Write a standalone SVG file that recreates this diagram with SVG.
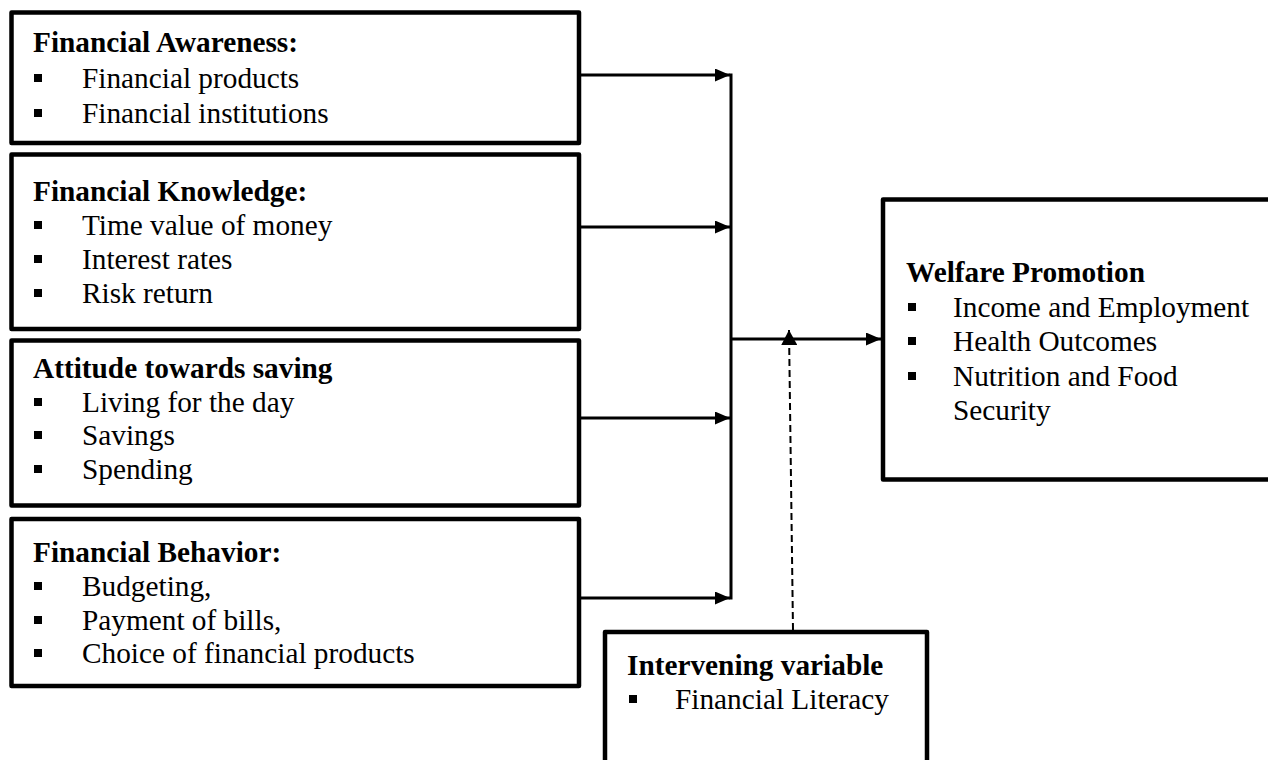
<svg xmlns="http://www.w3.org/2000/svg" width="1268" height="760" viewBox="0 0 1268 760">
  <style>
    .box { fill: #ffffff; stroke: #000000; stroke-width: 4.5; stroke-linejoin: round; }
    .t { font-family: "Liberation Serif", "Times New Roman", serif; font-size: 29.3px; fill: #000000; }
    .b { font-weight: bold; }
    .bul { fill: #000000; }
    .conn { stroke: #000000; stroke-width: 3; fill: none; }
    .dash { stroke: #000000; stroke-width: 2; fill: none; stroke-dasharray: 7 4; }
  </style>
  <defs>
    <marker id="arr" markerUnits="userSpaceOnUse" markerWidth="16" markerHeight="14" refX="15" refY="6.5" orient="auto">
      <path d="M0,0 L15,6.5 L0,13 z" fill="#000000"/>
    </marker>
    <marker id="arrD" markerUnits="userSpaceOnUse" markerWidth="16" markerHeight="16" refX="15" refY="8" orient="auto">
      <path d="M0,0 L15,8 L0,16 z" fill="#000000"/>
    </marker>
  </defs>
  <rect x="0" y="0" width="1268" height="760" fill="#ffffff"/>

  <g id="awareness">
    <rect class="box" x="11.5" y="12.5" width="567.5" height="130.5"/>
    <text class="t b" x="33" y="52">Financial Awareness:</text>
    <rect class="bul" x="34" y="74" width="8" height="8"/>
    <text class="t" x="82" y="88">Financial products</text>
    <rect class="bul" x="34" y="109" width="8" height="8"/>
    <text class="t" x="82" y="123">Financial institutions</text>
  </g>

  <g id="knowledge">
    <rect class="box" x="11.5" y="154.5" width="567.5" height="174.5"/>
    <text class="t b" x="33" y="201">Financial Knowledge:</text>
    <rect class="bul" x="34" y="221" width="8" height="8"/>
    <text class="t" x="82" y="235">Time value of money</text>
    <rect class="bul" x="34" y="255" width="8" height="8"/>
    <text class="t" x="82" y="269">Interest rates</text>
    <rect class="bul" x="34" y="289" width="8" height="8"/>
    <text class="t" x="82" y="303">Risk return</text>
  </g>

  <g id="attitude">
    <rect class="box" x="11.5" y="340.5" width="567.5" height="165"/>
    <text class="t b" x="33" y="378">Attitude towards saving</text>
    <rect class="bul" x="34" y="398" width="8" height="8"/>
    <text class="t" x="82" y="412">Living for the day</text>
    <rect class="bul" x="34" y="431" width="8" height="8"/>
    <text class="t" x="82" y="445">Savings</text>
    <rect class="bul" x="34" y="465" width="8" height="8"/>
    <text class="t" x="82" y="479">Spending</text>
  </g>

  <g id="behavior">
    <rect class="box" x="11.5" y="519" width="567.5" height="167"/>
    <text class="t b" x="33" y="562">Financial Behavior:</text>
    <rect class="bul" x="34" y="582" width="8" height="8"/>
    <text class="t" x="82" y="596">Budgeting,</text>
    <rect class="bul" x="34" y="616" width="8" height="8"/>
    <text class="t" x="82" y="630">Payment of bills,</text>
    <rect class="bul" x="34" y="649" width="8" height="8"/>
    <text class="t" x="82" y="663">Choice of financial products</text>
  </g>

  <g id="welfare">
    <rect class="box" x="883" y="199.5" width="420" height="280"/>
    <text class="t b" x="906" y="282">Welfare Promotion</text>
    <rect class="bul" x="908" y="303" width="8" height="8"/>
    <text class="t" x="953" y="317">Income and Employment</text>
    <rect class="bul" x="908" y="337" width="8" height="8"/>
    <text class="t" x="953" y="351">Health Outcomes</text>
    <rect class="bul" x="908" y="372" width="8" height="8"/>
    <text class="t" x="953" y="386">Nutrition and Food</text>
    <text class="t" x="953" y="420">Security</text>
  </g>

  <g id="intervening">
    <rect class="box" x="605" y="632" width="322" height="160"/>
    <text class="t b" x="627" y="675">Intervening variable</text>
    <rect class="bul" x="629" y="695" width="8" height="8"/>
    <text class="t" x="675" y="709">Financial Literacy</text>
  </g>

  <g id="connectors">
    <line class="conn" x1="581" y1="75" x2="730" y2="75" marker-end="url(#arr)"/>
    <line class="conn" x1="581" y1="227" x2="730" y2="227" marker-end="url(#arr)"/>
    <line class="conn" x1="581" y1="418" x2="730" y2="418" marker-end="url(#arr)"/>
    <line class="conn" x1="581" y1="598" x2="730" y2="598" marker-end="url(#arr)"/>
    <line class="conn" x1="731" y1="73.5" x2="731" y2="599.5"/>
    <line class="conn" x1="731" y1="339" x2="881" y2="339" marker-end="url(#arr)"/>
    <line class="dash" x1="793" y1="630" x2="789" y2="330" marker-end="url(#arrD)"/>
  </g>
</svg>
